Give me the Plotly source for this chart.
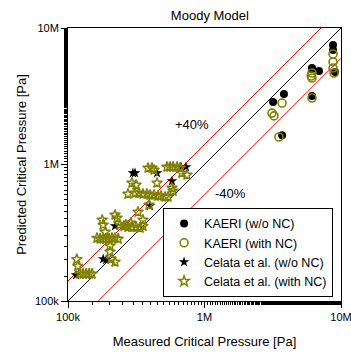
import plotly.graph_objects as go

# ---------------- data (Pa) ----------------
kaeri_wo_x = [8.74e6, 8.74e6, 9.04e6, 6.13e6, 6.13e6, 6.90e6, 6.13e6, 3.82e6, 3.18e6, 3.70e6]
kaeri_wo_y = [7.50e6, 6.90e6, 4.76e6, 5.09e6, 5.00e6, 4.84e6, 3.18e6, 3.28e6, 2.87e6, 1.64e6]

kaeri_w_x = [8.74e6, 8.74e6, 8.74e6, 8.89e6, 6.13e6, 6.13e6, 6.05e6, 6.13e6, 3.70e6, 3.12e6, 3.23e6, 3.51e6]
kaeri_w_y = [6.45e6, 5.64e6, 5.09e6, 4.68e6, 4.68e6, 4.30e6, 4.45e6, 3.07e6, 2.82e6, 2.38e6, 2.27e6, 1.59e6]

celata_wo_x = [2.99e5, 3.10e5, 4.49e5, 5.78e5, 6.73e5, 7.32e5, 3.99e5, 2.21e5, 1.81e5, 1.90e5, 1.145e5]
celata_wo_y = [8.66e5, 8.66e5, 8.66e5, 7.57e5, 9.59e5, 9.59e5, 4.97e5, 3.54e5, 2.03e5, 2.00e5, 1.55e5]

celata_w_x = [3.86e5, 4.12e5, 4.27e5, 5.31e5, 5.59e5, 5.88e5, 6.29e5, 6.62e5, 6.84e5, 7.44e5,
              2.94e5, 3.15e5, 4.49e5, 5.78e5, 5.88e5,
              2.75e5, 3.10e5, 3.31e5, 3.54e5, 3.79e5, 3.99e5, 4.27e5, 4.56e5, 4.80e5, 5.14e5, 5.40e5,
              3.92e5, 3.26e5, 3.54e5,
              2.21e5, 2.29e5, 1.78e5, 1.81e5, 1.87e5,
              2.40e5, 2.57e5, 2.75e5, 2.94e5, 3.15e5, 3.37e5, 3.54e5, 2.66e5, 2.89e5,
              1.63e5, 1.72e5, 1.81e5, 1.90e5, 2.00e5, 2.10e5, 2.21e5, 2.33e5,
              2.03e5, 2.03e5, 2.07e5, 2.21e5,
              1.16e5, 1.18e5, 1.22e5, 1.29e5, 1.36e5, 1.43e5, 1.50e5]
celata_w_y = [9.43e5, 9.43e5, 9.12e5, 9.59e5, 9.59e5, 9.59e5, 9.59e5, 9.43e5, 8.66e5, 8.38e5,
              7.32e5, 7.08e5, 7.32e5, 6.73e5, 6.40e5,
              6.08e5, 6.18e5, 6.18e5, 6.08e5, 6.08e5, 5.98e5, 5.98e5, 5.88e5, 5.88e5, 5.78e5, 5.78e5,
              5.05e5, 4.49e5, 3.92e5,
              4.27e5, 4.06e5, 3.92e5, 3.61e5, 3.20e5,
              3.61e5, 3.54e5, 3.48e5, 3.48e5, 3.48e5, 3.43e5, 3.54e5, 3.61e5, 3.73e5,
              2.89e5, 2.85e5, 2.85e5, 2.85e5, 2.85e5, 2.89e5, 2.89e5, 2.85e5,
              2.53e5, 2.29e5, 2.03e5, 1.93e5,
              2.02e5, 1.80e5, 1.58e5, 1.58e5, 1.58e5, 1.58e5, 1.58e5]

line_x = [1e5, 1e7]
ratios = [1.0, 1.4, 0.6]
ratio_colors = ["black", "red", "red"]

tick_vals = [1e5, 1e6, 1e7]
tick_text = ["100k", "1M", "10M"]

OLIVE = "#808000"
FONT = "Liberation Sans, Arial, sans-serif"

fig = go.Figure()

for r, c in zip(ratios, ratio_colors):
    fig.add_trace(go.Scatter(x=line_x, y=[r * v for v in line_x], mode="lines",
                             line=dict(color=c, width=1), showlegend=False, hoverinfo="skip"))

fig.add_trace(go.Scatter(x=kaeri_wo_x, y=kaeri_wo_y, mode="markers", name="KAERI (w/o NC)",
                         marker=dict(symbol="circle", size=8, color="black")))
fig.add_trace(go.Scatter(x=kaeri_w_x, y=kaeri_w_y, mode="markers", name="KAERI (with NC)",
                         marker=dict(symbol="circle-open", size=8, color=OLIVE, line=dict(width=1.6, color=OLIVE))))
fig.add_trace(go.Scatter(x=celata_wo_x, y=celata_wo_y, mode="markers", name="Celata et al. (w/o NC)",
                         marker=dict(symbol="star", size=8, color="black")))
fig.add_trace(go.Scatter(x=celata_w_x, y=celata_w_y, mode="markers", name="Celata et al. (with NC)",
                         marker=dict(symbol="star-open", size=8, color=OLIVE, line=dict(width=1.4, color=OLIVE))))

axis_common = dict(type="log", range=[5, 7], tickvals=tick_vals, ticktext=tick_text,
                   showgrid=False, zeroline=False, showline=True, linecolor="black", linewidth=1,
                   mirror=True, ticks="outside", ticklen=6, tickcolor="black",
                   ticklabeloverflow="allow", automargin=False,
                   tickfont=dict(size=11, family=FONT, color="black"),
                   minor=dict(ticks="outside", ticklen=3, tickcolor="black", showgrid=False))

fig.update_xaxes(**axis_common, title=dict(text="Measured Critical Pressure [Pa]",
                                           font=dict(size=13, family=FONT, color="black"), standoff=14))
fig.update_yaxes(**axis_common, title=dict(text="Predicted Critical Pressure [Pa]",
                                           font=dict(size=13, family=FONT, color="black"), standoff=5))

fig.add_annotation(x=0.455, y=0.645, xref="paper", yref="paper", text="+40%", showarrow=False,
                   font=dict(size=13, family=FONT, color="black"))
fig.add_annotation(x=0.595, y=0.395, xref="paper", yref="paper", text="-40%", showarrow=False,
                   font=dict(size=13, family=FONT, color="black"))

fig.update_layout(
    width=351, height=352,
    margin=dict(l=68, r=10, t=28, b=51, autoexpand=False),
    paper_bgcolor="white", plot_bgcolor="white",
    title=dict(text="Moody Model", x=0.598, xanchor="center", y=0.955, yanchor="middle",
               font=dict(size=13, family=FONT, color="black")),
    legend=dict(x=0.971, y=0.015, xanchor="right", yanchor="bottom",
                bgcolor="white", bordercolor="black", borderwidth=1,
                font=dict(size=12.5, family=FONT, color="black"),
                tracegroupgap=0, itemsizing="trace"),
)

fig.write_html("out.html")
